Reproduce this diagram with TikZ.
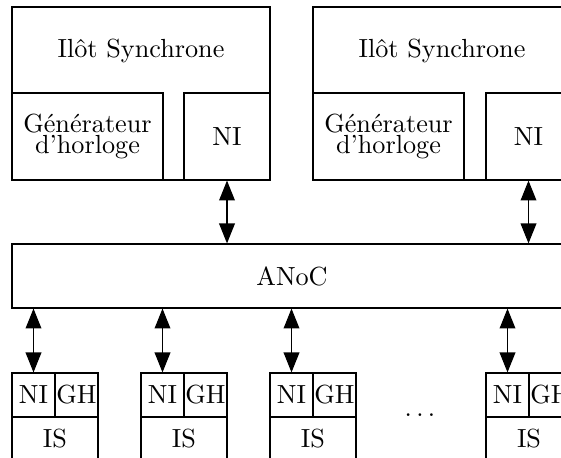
\documentclass[tikz,border=0pt]{standalone}
\usepackage{fontspec}
\usetikzlibrary{arrows.meta}
\begin{document}
\def\u{0.3817pt}
\begin{tikzpicture}[x=\u, y=-\u,
  box/.style={draw, rectangle, inner sep=0pt, line width=0.45pt},
  conn/.style={{Triangle[length=7.6pt,width=6pt]}-{Triangle[length=7.6pt,width=6pt]}, line width=0.45pt}]
\clip (0,0) rectangle (561,458);
\fill[white] (0,0) rectangle (561,458);
% top islands
\node[box, minimum width={258*\u}, minimum height={173*\u}] (isl1) at (141,93.5) {};
\node (t1) at (141,51) {Ilôt Synchrone};
\node[box, minimum width={151*\u}, minimum height={87*\u}, align=center] (gen1) at (87.5,136.5) {Générateur\\[-4.3pt]d'horloge};
\node[box, minimum width={86*\u}, minimum height={87*\u}] (ni1) at (227,136.5) {NI};
\node[box, minimum width={258*\u}, minimum height={173*\u}] (isl2) at (442,93.5) {};
\node (t2) at (442,51) {Ilôt Synchrone};
\node[box, minimum width={151*\u}, minimum height={87*\u}, align=center] (gen2) at (388.5,136.5) {Générateur\\[-4.3pt]d'horloge};
\node[box, minimum width={85*\u}, minimum height={87*\u}] (ni2) at (528.5,136.5) {NI};
% ANoC
\node[box, minimum width={560*\u}, minimum height={64*\u}] (anoc) at (292,276) {ANoC};
\draw[conn] (ni1.south) -- (anoc.north -| ni1.south);
\draw[conn] (ni2.south) -- (anoc.north -| ni2.south);
% bottom IS
\foreach \i/\x in {1/12,2/141,3/270,4/486}{
  \node[box, minimum width={43*\u}, minimum height={44*\u}] (bni\i) at (\x+21.5,395) {NI};
  \node[box, minimum width={43*\u}, minimum height={44*\u}] (bgh\i) at (\x+64.5,395) {GH};
  \node[box, minimum width={86*\u}, minimum height={44*\u}] (bis\i) at (\x+43,439) {IS};
  \draw[conn] (anoc.south -| bni\i.north) -- (bni\i.north);
}
\node (dots) at (420,415) {$\ldots$};
\end{tikzpicture}
\end{document}
